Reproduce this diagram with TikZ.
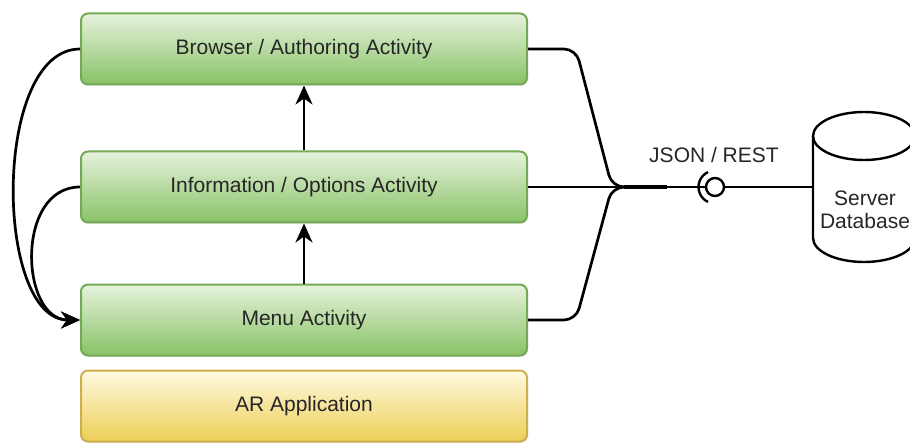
\documentclass[tikz,border=0pt]{standalone}
\usepackage{fontspec}
\setmainfont{Liberation Sans}
\usetikzlibrary{arrows.meta,shadows}

\begin{document}
\begin{tikzpicture}[x=1pt,y=1pt,
    actbox/.style={draw=gborde, line width=2pt, rounded corners=7pt,
      top color=gtop, middle color=gmid, bottom color=gbot,
      minimum width=446pt, minimum height=71pt,
      font=\fontsize{21}{25}\selectfont, text=black!85,
      drop shadow={opacity=0.18, shadow xshift=1pt, shadow yshift=-1.5pt}},
    appbox/.style={actbox, draw=yborde, top color=ytop, middle color=ymid, bottom color=ybot},
    link/.style={line width=2.7pt},
    arr/.style={link, -{Stealth[length=19pt,width=17pt,inset=6pt]}}]
  %colores
  \definecolor{gtop}{HTML}{E6F2DC}
  \definecolor{gmid}{HTML}{A6D487}
  \definecolor{gbot}{HTML}{88C266}
  \definecolor{gborde}{HTML}{74AA55}
  \definecolor{ytop}{HTML}{FFF9E2}
  \definecolor{ymid}{HTML}{F6E07C}
  \definecolor{ybot}{HTML}{EDCF55}
  \definecolor{yborde}{HTML}{CDAF50}

  \useasboundingbox (0,0) rectangle (910,445);

  % Cajas de actividades
  \node[actbox] (bro) at (304,396) {Browser / Authoring Activity};
  \node[actbox] (info) at (304,258) {Information / Options Activity};
  \node[actbox] (menu) at (304,125) {Menu Activity};
  \node[appbox] (ar) at (304,39) {AR Application};

  % Flechas verticales
  \foreach \a/\b in {info/bro, menu/info}
    \draw[arr] (\a) -- (\b);

  % Retornos a Menu
  \draw[arr] (bro.west) .. controls (-8,396) and (-6,125) .. (menu.west);
  \draw[arr] (info.west) .. controls (15,258) and (20,125) .. (menu.west);

  % Union hacia el servidor
  \coordinate (jn) at (624,258);
  \coordinate (jx) at (667,258);
  \draw[link, rounded corners=12pt] (bro.east) -- (576,396) -- (612,258) -- (jn);
  \draw[link, rounded corners=12pt] (menu.east) -- (576,125) -- (612,258) -- (jn);
  \draw[link] (info.east) -- (jn);
  \draw[line width=3.6pt] (jn) -- (jx);

  % Base de datos
  \draw[line width=2.4pt] (813,309) arc (180:0:51 and 24) -- (915,207)
     arc (0:-180:51 and 24) -- cycle;
  \draw[line width=2.4pt] (813,309) arc (180:360:51 and 24);
  \coordinate (dbw) at (813,258);
  \node[font=\fontsize{21}{23}\selectfont, text=black!85, align=center] (db) at (865,235) {Server\\Database};

  % Interfaz JSON
  \node[circle, draw, line width=2.4pt, minimum size=18pt, inner sep=0pt] (iface) at (715,258) {};
  \draw[line width=2.4pt] ([shift={(115:16.5)}]iface.center) arc (115:245:16.5);
  \node[font=\fontsize{21}{25}\selectfont, text=black!85] (json) at (714,290) {JSON / REST};
  \draw[link] (jx) -- (iface);
  \draw[link] (iface) -- (dbw);
\end{tikzpicture}
\end{document}
